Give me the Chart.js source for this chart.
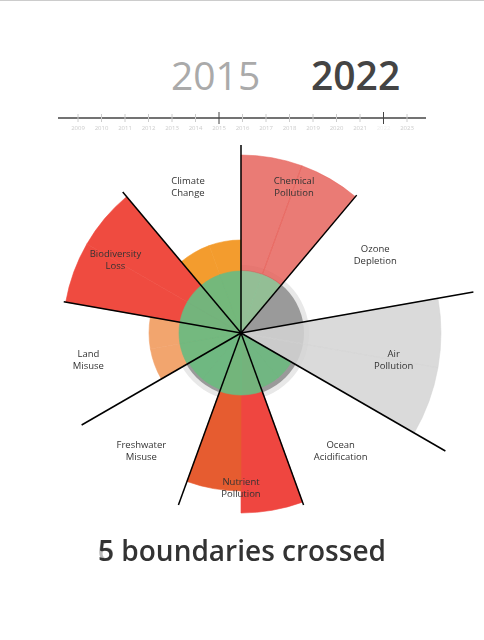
<!DOCTYPE html>
<html><head><meta charset="utf-8">
<script src="https://cdn.jsdelivr.net/npm/chart.js@4"></script>
<style>
body{margin:0;width:484px;height:640px;background:#fff;position:relative;font-family:"Open Sans",sans-serif;overflow:hidden}
#top{position:absolute;left:0;top:0;width:484px;height:1px;background:#ccc}
.yr{position:absolute;top:50px;font-size:39px;line-height:50px}
#y1{left:171px;color:#aaa}
#y2{left:311px;color:#444;font-weight:600}
#tl{position:absolute;left:0;top:0}
#wrap{position:absolute;left:1px;top:93px;width:480px;height:480px}
#bt{position:absolute;left:0;width:484px;top:531px;text-align:center;font-size:28px;color:#333;font-weight:600}
#bt .n{position:relative;display:inline-block}
#bt i{position:absolute;left:0;top:0;color:#bbb;font-style:normal}
#bt b{position:relative;font-weight:600}
</style></head><body>
<div id="top"></div>
<div class="yr" id="y1">2015</div><div class="yr" id="y2">2022</div>
<canvas id="tl" width="484" height="140"></canvas>
<div id="wrap"><canvas id="c" width="480" height="480"></canvas></div>
<div id="bt"><span class="n"><i>6</i><b>5</b></span> boundaries crossed</div>
<script>
const years=[2009,2010,2011,2012,2013,2014,2015,2016,2017,2018,2019,2020,2021,2022,2023];
const boundaries=[["Chemical","Pollution"],["Ozone","Depletion"],["Air","Pollution"],["Ocean","Acidification"],["Nutrient","Pollution"],["Freshwater","Misuse"],["Land","Misuse"],["Biodiversity","Loss"],["Climate","Change"]];
const outerFirst=[178,0,200,0,180,0,92,178,93];
const outerSecond=[178,0,200,0,158,0,92,178,93];
const safeZone=[62,0,0,58,62,60,62,62,62];
const dividerLen=[188,180,236,236,183,183,184,180,184];
const outerColors=["rgba(229,90,82,0.8)","#fff","rgba(212,212,212,0.85)","#fff","#EF4640","#fff","#F2A56E","#EF4B40","#F39C2E"];
const outerColors2=["rgba(229,90,82,0.8)","#fff","rgba(212,212,212,0.85)","#fff","#E65C30","#fff","#F2A56E","#EF4B40","#F39C2E"];
const greenColors=["rgba(140,200,155,0.9)","#6DB97F","#6DB97F","rgba(109,185,127,0.9)","rgba(109,185,127,0.95)","rgba(109,185,127,0.95)","rgba(109,185,127,0.95)","rgba(109,185,127,0.95)","rgba(109,185,127,0.95)"];

const t=document.getElementById('tl').getContext('2d');
t.strokeStyle='#444';t.lineWidth=1.3;t.beginPath();t.moveTo(58,118);t.lineTo(426,118);t.stroke();
years.forEach((y,i)=>{const x=78+i*23.5;const hl=(y===2015||y===2022);
 t.strokeStyle=hl?'#444':'#ccc';t.lineWidth=1;t.beginPath();t.moveTo(x,hl?112:114);t.lineTo(x,hl?124:122);t.stroke();
 t.fillStyle=y===2022?'#eee':'#ccc';t.font='6px "Open Sans"';t.textAlign='center';t.fillText(y,x,130);});

const lbl=[],d1=[],d2=[],c1=[],gc=[];
boundaries.forEach((b,i)=>{lbl.push(b[0]+' a',b[0]+' b');d1.push(outerFirst[i],outerSecond[i]);c1.push(outerColors[i],outerColors2[i]);d2.push(safeZone[i],safeZone[i]);gc.push(greenColors[i],greenColors[i]);});

const deco={id:'deco',
 beforeDatasetsDraw(ch){const s=ch.scales.r,x=s.xCenter,y=s.yCenter,k=s.drawingArea/240,c=ch.ctx;
  c.save();c.fillStyle='#e8e8e8';c.beginPath();c.arc(x,y,68*k,0,Math.PI*2);c.fill();
  c.fillStyle='#9a9a9a';c.beginPath();c.arc(x,y,63*k,0,Math.PI*2);c.fill();c.restore();},
 afterDatasetsDraw(ch){const s=ch.scales.r,x=s.xCenter,y=s.yCenter,k=s.drawingArea/240,c=ch.ctx;
  c.save();c.strokeStyle='#000';c.lineWidth=1.5;
  dividerLen.forEach((L,i)=>{const a=-Math.PI/2+i*Math.PI*2/9;c.beginPath();c.moveTo(x,y);c.lineTo(x+Math.cos(a)*L*k,y+Math.sin(a)*L*k);c.stroke();});
  c.fillStyle='#333';c.font='9.5px "Open Sans"';c.textAlign='center';c.textBaseline='middle';
  boundaries.forEach((b,i)=>{const a=-Math.PI/2+(i+0.5)*Math.PI*2/9;const r=(i===7?145:155)*k;const px=x+Math.cos(a)*r,py=y+Math.sin(a)*r;c.fillText(b[0],px,py-6);c.fillText(b[1],px,py+6);});
  c.restore();}};

new Chart(document.getElementById('c'),{type:'polarArea',
 data:{labels:lbl,datasets:[{data:d2,backgroundColor:gc,borderColor:gc,borderWidth:0.6},{data:d1,backgroundColor:c1,borderColor:c1,borderWidth:0.6}]},
 options:{responsive:false,animation:false,layout:{padding:0},
  plugins:{legend:{display:false},tooltip:{enabled:false}},
  scales:{r:{min:0,max:240,display:false}}},
 plugins:[deco]});
</script></body></html>
